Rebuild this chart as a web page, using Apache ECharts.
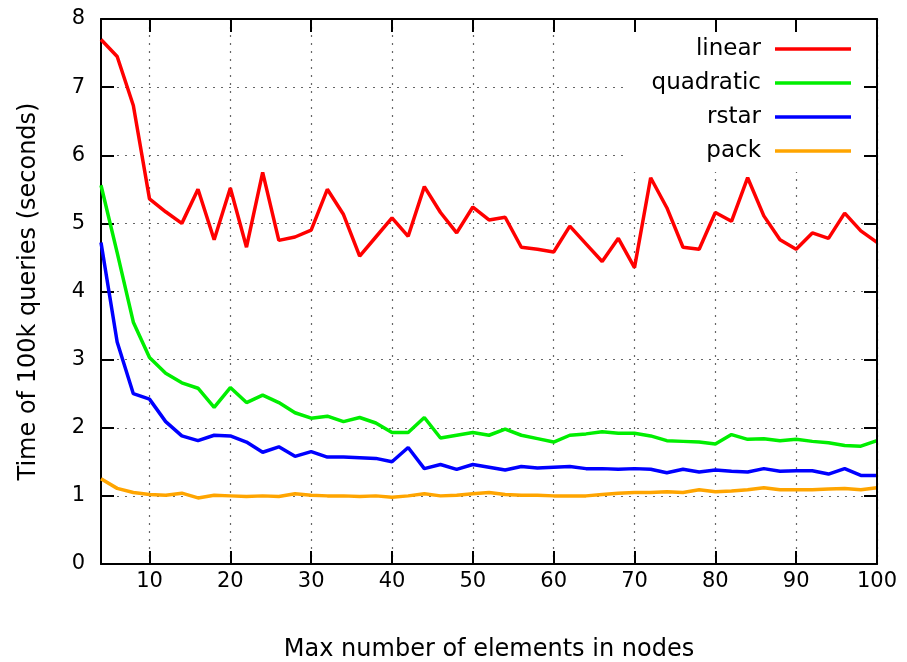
<!DOCTYPE html>
<html>
<head>
<meta charset="utf-8">
<script src="https://cdn.jsdelivr.net/npm/echarts@6/dist/echarts.min.js"></script>
<style>html,body{margin:0;padding:0;background:#fff}#c{width:907px;height:662px}</style>
</head>
<body>
<div id="c"></div>
<script>
var xValues = [4,6,8,10,12,14,16,18,20,22,24,26,28,30,32,34,36,38,40,42,44,46,48,50,52,54,56,58,60,62,64,66,68,70,72,74,76,78,80,82,84,86,88,90,92,94,96,98,100];
var linear = [7.70,7.45,6.73,5.36,5.17,5.00,5.50,4.76,5.52,4.65,5.75,4.75,4.80,4.90,5.50,5.13,4.52,4.80,5.08,4.81,5.54,5.16,4.86,5.24,5.05,5.09,4.65,4.62,4.58,4.96,4.70,4.44,4.78,4.35,5.67,5.23,4.65,4.62,5.16,5.03,5.67,5.11,4.76,4.62,4.86,4.78,5.15,4.89,4.72];
var quadratic = [5.56,4.57,3.55,3.03,2.80,2.66,2.58,2.30,2.59,2.37,2.48,2.37,2.22,2.14,2.17,2.09,2.15,2.07,1.93,1.93,2.15,1.85,1.89,1.93,1.89,1.98,1.89,1.84,1.79,1.89,1.91,1.94,1.92,1.92,1.88,1.81,1.80,1.79,1.76,1.90,1.83,1.84,1.81,1.83,1.80,1.78,1.74,1.73,1.81];
var rstar = [4.72,3.26,2.50,2.42,2.09,1.88,1.81,1.89,1.88,1.79,1.64,1.72,1.58,1.65,1.57,1.57,1.56,1.55,1.50,1.71,1.40,1.46,1.39,1.46,1.42,1.38,1.43,1.41,1.42,1.43,1.40,1.40,1.39,1.40,1.39,1.34,1.39,1.35,1.38,1.36,1.35,1.40,1.36,1.37,1.37,1.32,1.40,1.30,1.30];
var pack = [1.25,1.11,1.05,1.02,1.01,1.04,0.97,1.01,1.00,0.99,1.00,0.99,1.03,1.01,1.00,1.00,0.99,1.00,0.98,1.00,1.03,1.00,1.01,1.03,1.05,1.02,1.01,1.01,1.00,1.00,1.00,1.02,1.04,1.05,1.05,1.06,1.05,1.09,1.06,1.07,1.09,1.12,1.09,1.09,1.09,1.10,1.11,1.09,1.12];
var xTicks = [10,20,30,40,50,60,70,80,90,100];
var seriesNames = ['linear','quadratic','rstar','pack'];
var seriesColors = ['#ff0000','#00ee00','#0000ff','#ffa500'];
var xTitle = 'Max number of elements in nodes';
var yTitle = 'Time of 100k queries (seconds)';

var FONT = 'DejaVu Sans';
var FS = 21;
var TFS = 24;
var chart = echarts.init(document.getElementById('c'), null, {renderer: 'canvas'});
function pairs(arr) { return xValues.map(function (x, i) { return [x, arr[i]]; }); }
var allData = [linear, quadratic, rstar, pack];
var gridLine = {show: true, lineStyle: {color: '#666', width: 1.2, type: [2, 6]}};
var option = {
  backgroundColor: '#fff',
  animation: false,
  grid: {left: 101, right: 30, top: 19, bottom: 98, containLabel: false, outerBoundsMode: 'none'},
  legend: {
    orient: 'vertical', align: 'right', right: 43, top: 19,
    padding: [13, 13, 4, 27], itemGap: 0, itemWidth: 76, itemHeight: 3.5,
    icon: 'rect', backgroundColor: '#fff', z: 5,
    textStyle: {fontFamily: FONT, fontSize: 23, color: '#000', lineHeight: 34, padding: [0, 9, 0, 0]},
    data: seriesNames
  },
  xAxis: [{
    type: 'value', min: 4, max: 100, position: 'bottom',
    name: xTitle, nameLocation: 'middle', nameGap: 74,
    nameTextStyle: {fontFamily: FONT, fontSize: TFS, color: '#000'},
    axisLine: {show: true, onZero: false, lineStyle: {color: '#000', width: 2}},
    axisTick: {show: true, inside: true, length: 13, customValues: xTicks, lineStyle: {color: '#000', width: 2}},
    axisLabel: {show: true, customValues: xTicks, margin: 7, fontFamily: FONT, fontSize: FS, color: '#000'},
    splitLine: gridLine
  }, {
    type: 'value', min: 4, max: 100, position: 'top', z: 10,
    axisLine: {show: true, onZero: false, lineStyle: {color: '#000', width: 2}},
    axisTick: {show: true, inside: true, length: 13, customValues: xTicks, lineStyle: {color: '#000', width: 2}},
    axisLabel: {show: false},
    splitLine: {show: false}
  }],
  yAxis: [{
    type: 'value', min: 0, max: 8, interval: 1, position: 'left',
    name: yTitle, nameLocation: 'middle', nameGap: 60, nameRotate: 90,
    nameTextStyle: {fontFamily: FONT, fontSize: TFS, color: '#000'},
    axisLine: {show: true, onZero: false, lineStyle: {color: '#000', width: 2}},
    axisTick: {show: true, inside: true, length: 13, lineStyle: {color: '#000', width: 2}},
    axisLabel: {margin: 16, fontFamily: FONT, fontSize: FS, color: '#000'},
    splitLine: gridLine
  }, {
    type: 'value', min: 0, max: 8, interval: 1, position: 'right', z: 10,
    axisLine: {show: true, onZero: false, lineStyle: {color: '#000', width: 2}},
    axisTick: {show: true, inside: true, length: 13, lineStyle: {color: '#000', width: 2}},
    axisLabel: {show: false},
    splitLine: {show: false}
  }],
  series: seriesNames.map(function (name, i) {
    return {
      name: name, type: 'line', xAxisIndex: 0, yAxisIndex: 0,
      data: pairs(allData[i]), showSymbol: false, symbol: 'none',
      color: seriesColors[i],
      lineStyle: {color: seriesColors[i], width: 3.5},
      itemStyle: {color: seriesColors[i]},
      z: 2
    };
  })
};
chart.setOption(option);
</script>
</body>
</html>
